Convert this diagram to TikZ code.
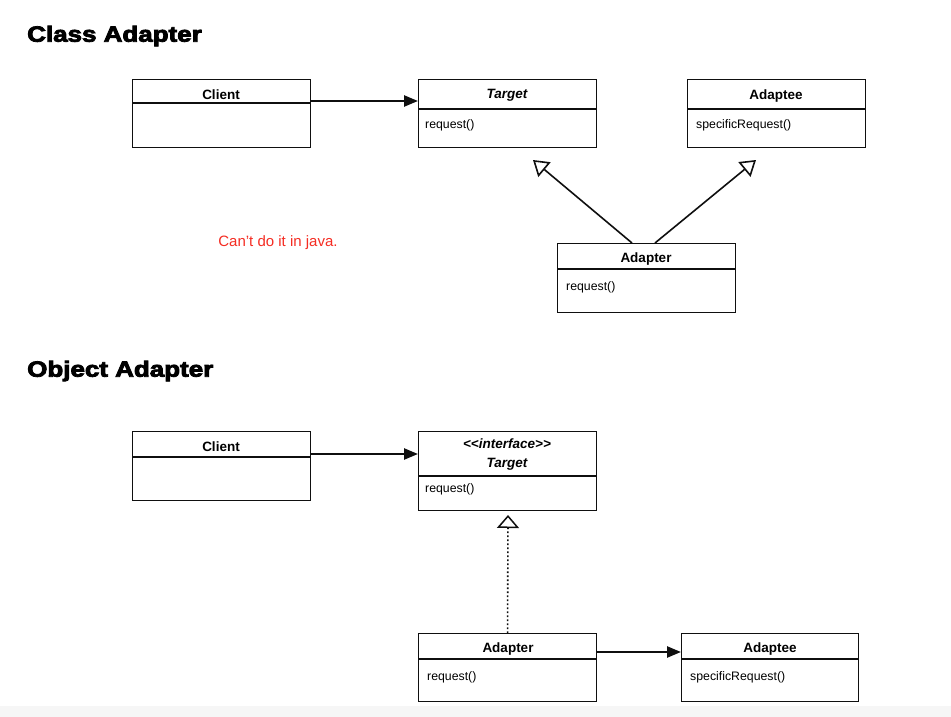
\documentclass[tikz,border=0pt]{standalone}
\usepackage{fontspec}
\setmainfont{Liberation Sans}
\newfontfamily\heavyfont{Liberation Sans Bold}[FakeBold=3.5]
\usetikzlibrary{arrows.meta,calc}
\definecolor{linecol}{RGB}{15,15,15}
\definecolor{redtxt}{RGB}{245,45,35}
\tikzset{
  umlbox/.style={draw=linecol,line width=1.1pt,anchor=north west,inner sep=0pt,minimum width=178pt},
  headtxt/.style={font=\fontsize{13.5}{15}\selectfont\bfseries,inner sep=0pt},
  bodytxt/.style={font=\fontsize{12.3}{14}\selectfont,inner sep=0pt,anchor=west},
  divider/.style={draw=linecol,line width=1.1pt},
  assoc/.style={draw=linecol,line width=2.4pt,-{Triangle[length=14pt,width=11pt]}},
  gener/.style={draw=linecol,line width=1.6pt,-{Triangle[open,length=15pt,width=19pt,fill=white]}},
  realiz/.style={draw=linecol,line width=1.6pt,dash pattern=on 1.6pt off 2.4pt,-{Triangle[open,length=13pt,width=22pt,fill=white,line width=1.5pt]}},
  titletxt/.style={font=\fontsize{22}{26}\heavyfont,inner sep=0pt,anchor=west,xscale=1.18},
}
\begin{document}
\begin{tikzpicture}[x=1pt,y=-1pt]
\useasboundingbox (0,0) rectangle (951,717);
\fill[white] (0,0) rectangle (951,717);
\fill[gray!7] (0,706) rectangle (951,717);

% Titles
\node[titletxt] (title1) at (27,36) {Class Adapter};
\node[titletxt] (title2) at (27,371) {Object Adapter};

% ---------- Class Adapter ----------
\node[umlbox,minimum height=68pt] (c1) at (132,79) {};
\draw[divider] (132,103) -- (310,103);
\node[headtxt] (c1h) at (221,95) {Client};

\node[umlbox,minimum height=68pt] (t1) at (418,79) {};
\draw[divider] (418,109) -- (596,109);
\node[headtxt] (t1h) at (507,95) {\itshape Target};
\node[bodytxt] (t1b) at (425,125) {request()};

\node[umlbox,minimum height=68pt] (ae1) at (687,79) {};
\draw[divider] (687,109) -- (865,109);
\node[headtxt] (ae1h) at (776,96) {Adaptee};
\node[bodytxt] (ae1b) at (696,125) {specificRequest()};

\node[umlbox,minimum height=69pt] (ad1) at (557,243) {};
\draw[divider] (557,269) -- (735,269);
\node[headtxt] (ad1h) at (646,259) {Adapter};
\node[bodytxt] (ad1b) at (566,287) {request()};

\node[font=\fontsize{15}{17}\selectfont,text=redtxt,inner sep=0pt] (note) at (278,243) {Can’t do it in java.};

\coordinate (tipL) at (533,160);
\coordinate (tipR) at (756,160);
\draw[assoc] ([yshift=-22pt]c1.north east) -- ([yshift=-22pt]t1.north west);
\draw[gener] ([xshift=75pt]ad1.north west) -- (tipL);
\draw[gener] ([xshift=98pt]ad1.north west) -- (tipR);

% ---------- Object Adapter ----------
\node[umlbox,minimum height=69pt] (c2) at (132,431) {};
\draw[divider] (132,457) -- (310,457);
\node[headtxt] (c2h) at (221,447) {Client};

\node[umlbox,minimum height=79pt] (t2) at (418,431) {};
\draw[divider] (418,476) -- (596,476);
\node[headtxt] (t2s) at (507,444) {\itshape <{}<interface>{}>};
\node[headtxt] (t2h) at (507,464) {\itshape Target};
\node[bodytxt] (t2b) at (425,489) {request()};

\node[umlbox,minimum height=68pt] (ad2) at (418,633) {};
\draw[divider] (418,659) -- (596,659);
\node[headtxt] (ad2h) at (508,649) {Adapter};
\node[bodytxt] (ad2b) at (427,677) {request()};

\node[umlbox,minimum height=68pt,minimum width=177pt] (ae2) at (681,633) {};
\draw[divider] (681,659) -- (858,659);
\node[headtxt] (ae2h) at (770,649) {Adaptee};
\node[bodytxt] (ae2b) at (690,677) {specificRequest()};

\coordinate (tipB) at (508,515);
\draw[assoc] ([yshift=-23pt]c2.north east) -- ([yshift=-23pt]t2.north west);
\draw[realiz] (ad2.north) -- (tipB);
\draw[assoc] ([yshift=-19pt]ad2.north east) -- ([yshift=-19pt]ae2.north west);
\end{tikzpicture}
\end{document}
